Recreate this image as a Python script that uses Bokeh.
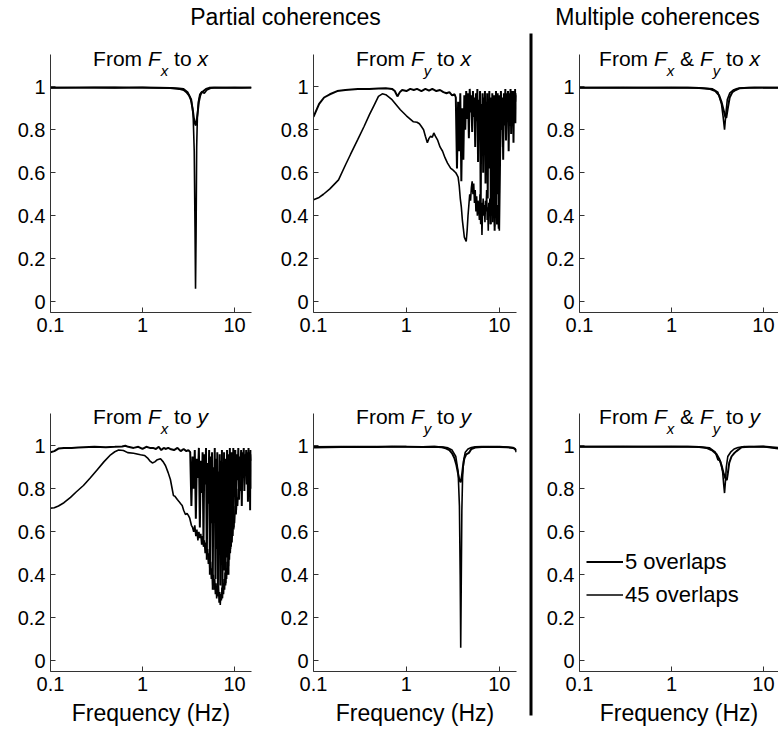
from bokeh.plotting import figure
from bokeh.layouts import row, column
from bokeh.models import (Range1d, FixedTicker, CustomJSTickFormatter, Label,
                          Legend, LegendItem)
from bokeh.embed import file_html
from bokeh.resources import INLINE

FONT = "Liberation Sans"

# ---------------- data ----------------
x_ticks = [0.1, 1, 10]
y_ticks = [0, 0.2, 0.4, 0.6, 0.8, 1]
y_axis_span = (-0.05, 1.15)
series_names = ["5 overlaps", "45 overlaps"]
headers = ["Partial coherences", "Multiple coherences"]
x_title = "Frequency (Hz)"

# shared frequency band (Hz) used by the noisy part of panels "From Fy to x" and "From Fx to y"
f_band = [3.4, 3.5, 3.6, 3.7, 3.8, 3.9, 4.0, 4.1, 4.2, 4.3, 4.4, 4.5, 4.6, 4.7, 4.8, 4.9,
          5.0, 5.1, 5.2, 5.3, 5.4, 5.5, 5.6, 5.7, 5.8, 5.9, 6.0, 6.1, 6.2, 6.3, 6.4, 6.5,
          6.6, 6.7, 6.8, 6.9, 7.0, 7.1, 7.2, 7.3, 7.4, 7.5, 7.6, 7.7, 7.8, 7.9, 8.0, 8.1,
          8.2, 8.3, 8.4, 8.5, 8.6, 8.7, 8.8, 8.9, 9.0, 9.1, 9.2, 9.3, 9.4, 9.5, 9.6, 9.7,
          9.8, 9.9, 10.0, 10.2, 10.4, 10.6, 10.8, 11.0, 11.2, 11.4, 11.6, 11.8, 12.0, 12.2,
          12.4, 12.6, 12.8, 13.0, 13.2, 13.4, 13.6, 13.8, 14.0, 14.2, 14.4, 14.6, 14.8,
          15.0, 15.2]

# Panel: From Fx to x
f_fx_x_5 = [0.1, 0.2, 0.3, 0.5, 0.7, 1.0, 1.5, 2.0, 2.5, 2.8, 3.0, 3.2, 3.35, 3.5, 3.6,
            3.7, 3.8, 3.9, 4.0, 4.1, 4.25, 4.4, 4.6, 4.9, 5.3, 6.0, 8.0, 10.0, 12.0, 15.3]
c_fx_x_5 = [0.995, 0.996, 0.996, 0.995, 0.997, 0.996, 0.995, 0.994, 0.99, 0.985, 0.975,
            0.96, 0.94, 0.9, 0.86, 0.83, 0.82, 0.85, 0.89, 0.93, 0.96, 0.975, 0.98, 0.99,
            0.995, 0.996, 0.995, 0.996, 0.995, 0.996]
f_fx_x_45 = [0.1, 0.2, 0.3, 0.5, 0.7, 1.0, 1.5, 2.0, 2.5, 2.8, 3.1, 3.4, 3.55, 3.65, 3.72,
             3.77, 3.82, 3.88, 3.95, 4.05, 4.2, 4.4, 4.7, 5.0, 5.5, 6.0, 8.0, 10.0, 12.0, 15.3]
c_fx_x_45 = [0.996, 0.995, 0.996, 0.997, 0.995, 0.996, 0.994, 0.995, 0.993, 0.99, 0.975,
             0.94, 0.87, 0.7, 0.35, 0.06, 0.3, 0.72, 0.86, 0.93, 0.965, 0.975, 0.97, 0.985,
             0.993, 0.995, 0.996, 0.995, 0.996, 0.995]

# Panel: From Fy to x
f_fy_x_5_low = [0.1, 0.115, 0.13, 0.15, 0.18, 0.22, 0.3, 0.4, 0.5, 0.6, 0.7, 0.75, 0.8,
                0.85, 0.9, 1.0, 1.1, 1.2, 1.3, 1.45, 1.6, 1.75, 1.9, 2.1, 2.3, 2.5, 2.7,
                2.9, 3.1, 3.3]
c_fy_x_5_low = [0.86, 0.92, 0.95, 0.965, 0.98, 0.985, 0.99, 0.99, 0.992, 0.993, 0.99, 0.98,
                0.955, 0.975, 0.985, 0.98, 0.99, 0.985, 0.99, 0.98, 0.99, 0.982, 0.99, 0.98,
                0.985, 0.975, 0.97, 0.975, 0.96, 0.965]
c_fy_x_5_band = [0.95, 0.62, 0.93, 0.70, 0.97, 0.56, 0.90, 0.66, 0.96, 0.80,
                 0.98, 0.85, 0.97, 0.76, 0.99, 0.88, 0.96, 0.79, 0.98, 0.86,
                 0.95, 0.72, 0.97, 0.84, 0.99, 0.65, 0.94, 0.80, 0.98, 0.42,
                 0.92, 0.75, 0.97, 0.60, 0.95, 0.83, 0.98, 0.55, 0.93, 0.78,
                 0.97, 0.48, 0.90, 0.70, 0.98, 0.62, 0.95, 0.36, 0.92, 0.74,
                 0.97, 0.45, 0.89, 0.58, 0.96, 0.33, 0.94, 0.68, 0.98, 0.40,
                 0.91, 0.77, 0.97, 0.50, 0.93, 0.35, 0.96,
                 0.72, 0.98, 0.80, 0.95, 0.66, 0.97, 0.84, 0.99, 0.75, 0.94,
                 0.87, 0.98, 0.70, 0.96, 0.82, 0.99, 0.78, 0.95, 0.88, 0.98,
                 0.74, 0.97, 0.85, 0.99, 0.83, 0.96]
f_fy_x_45_low = [0.1, 0.115, 0.128, 0.15, 0.186, 0.22, 0.25, 0.3, 0.35, 0.4, 0.45, 0.5,
                 0.55, 0.6, 0.7, 0.86, 1.0, 1.19, 1.3, 1.38, 1.45, 1.53, 1.6, 1.68, 1.75,
                 1.82, 1.9, 1.97, 2.05, 2.16, 2.3, 2.45, 2.6, 2.77, 3.0, 3.15, 3.3]
c_fy_x_45_low = [0.474, 0.485, 0.50, 0.525, 0.567, 0.635, 0.685, 0.755, 0.815, 0.87, 0.915,
                 0.955, 0.967, 0.963, 0.94, 0.893, 0.865, 0.837, 0.835, 0.828, 0.815, 0.80,
                 0.77, 0.74, 0.76, 0.77, 0.765, 0.785, 0.77, 0.753, 0.72, 0.70, 0.67,
                 0.645, 0.62, 0.614, 0.605]
c_fy_x_45_band = [0.60, 0.59, 0.58, 0.54, 0.48, 0.44, 0.38, 0.34, 0.30, 0.29,
                  0.28, 0.33, 0.40, 0.45, 0.50, 0.47, 0.53, 0.56, 0.50, 0.55,
                  0.46, 0.52, 0.42, 0.49, 0.40, 0.47, 0.44, 0.38, 0.50, 0.36,
                  0.46, 0.31, 0.42, 0.48, 0.40, 0.45, 0.37, 0.47, 0.42, 0.52,
                  0.38, 0.44, 0.33, 0.46, 0.41, 0.48, 0.36, 0.45, 0.40, 0.50,
                  0.43, 0.37, 0.46, 0.40, 0.48, 0.35, 0.44, 0.39, 0.47, 0.41,
                  0.36, 0.45, 0.38, 0.43, 0.34, 0.40, 0.33,
                  0.62, 0.88, 0.80, 0.93, 0.85, 0.95, 0.82, 0.93, 0.88, 0.97,
                  0.86, 0.94, 0.90, 0.97, 0.87, 0.95, 0.91, 0.98, 0.89, 0.96,
                  0.92, 0.98, 0.90, 0.96, 0.93, 0.97]

# Panel: From Fx & Fy to x
f_fxy_x_5 = [0.1, 0.3, 0.5, 1.0, 1.5, 2.0, 2.6, 3.0, 3.3, 3.5, 3.7, 3.85, 3.95, 4.1, 4.3,
             4.6, 5.0, 5.5, 7.0, 10.0, 15.3]
c_fxy_x_5 = [0.995, 0.996, 0.995, 0.996, 0.995, 0.994, 0.99, 0.98, 0.96, 0.93, 0.89, 0.86,
             0.855, 0.9, 0.95, 0.975, 0.985, 0.993, 0.995, 0.996, 0.995]
f_fxy_x_45 = [0.1, 0.3, 0.5, 1.0, 1.5, 2.0, 2.8, 3.2, 3.5, 3.65, 3.78, 3.9, 4.05, 4.3, 4.7,
              5.2, 6.0, 8.0, 10.0, 15.3]
c_fxy_x_45 = [0.996, 0.995, 0.996, 0.995, 0.996, 0.995, 0.99, 0.975, 0.92, 0.86, 0.80, 0.87,
              0.94, 0.97, 0.985, 0.992, 0.995, 0.996, 0.995, 0.996]

# Panel: From Fx to y
f_fx_y_5_low = [0.1, 0.11, 0.122, 0.14, 0.17, 0.2, 0.3, 0.4, 0.5, 0.6, 0.65, 0.7, 0.8, 0.9,
                1.0, 1.1, 1.2, 1.3, 1.4, 1.5, 1.6, 1.7, 1.8, 1.9, 2.0, 2.2, 2.4, 2.6, 2.8,
                3.0, 3.15, 3.3]
c_fx_y_5_low = [0.97, 0.975, 0.987, 0.99, 0.99, 0.992, 0.995, 0.993, 0.995, 0.997, 1.0,
                0.995, 0.99, 0.995, 0.985, 0.995, 0.99, 0.99, 0.985, 0.995, 0.98, 0.99,
                0.985, 0.99, 0.985, 0.98, 0.99, 0.975, 0.985, 0.975, 0.98, 0.97]
c_fx_y_5_band = [0.72, 0.95, 0.80, 0.98, 0.66, 0.94, 0.85, 0.99, 0.62, 0.93,
                 0.78, 0.97, 0.55, 0.96, 0.82, 0.99, 0.47, 0.92, 0.73, 0.98,
                 0.40, 0.95, 0.64, 0.97, 0.33, 0.90, 0.70, 0.99, 0.38, 0.94,
                 0.52, 0.97, 0.30, 0.88, 0.60, 0.96, 0.35, 0.93, 0.45, 0.98,
                 0.32, 0.91, 0.58, 0.97, 0.42, 0.94, 0.36, 0.89, 0.63, 0.98,
                 0.48, 0.93, 0.40, 0.96, 0.67, 0.99, 0.52, 0.92, 0.74, 0.97,
                 0.58, 0.95, 0.80, 0.99, 0.62, 0.94, 0.77,
                 0.98, 0.70, 0.96, 0.84, 0.99, 0.75, 0.95, 0.88, 0.98, 0.72,
                 0.97, 0.86, 0.99, 0.79, 0.96, 0.90, 0.98, 0.82, 0.97, 0.74,
                 0.99, 0.87, 0.96, 0.70, 0.98, 0.80]
f_fx_y_45_low = [0.1, 0.11, 0.122, 0.14, 0.165, 0.19, 0.228, 0.27, 0.324, 0.38, 0.45, 0.5,
                 0.55, 0.62, 0.69, 0.8, 0.95, 1.05, 1.13, 1.2, 1.28, 1.36, 1.45, 1.57,
                 1.68, 1.78, 1.9, 2.01, 2.1, 2.17, 2.25, 2.39, 2.5, 2.6, 2.7, 2.8, 2.93,
                 3.05, 3.15, 3.25]
c_fx_y_45_low = [0.71, 0.712, 0.72, 0.735, 0.76, 0.785, 0.815, 0.85, 0.89, 0.925, 0.958,
                 0.972, 0.98, 0.978, 0.968, 0.965, 0.958, 0.955, 0.944, 0.93, 0.92, 0.925,
                 0.935, 0.94, 0.925, 0.907, 0.875, 0.843, 0.80, 0.768, 0.765, 0.75, 0.74,
                 0.73, 0.722, 0.70, 0.68, 0.685, 0.676, 0.665]
c_fx_y_45_band = [0.63, 0.62, 0.60, 0.63, 0.58, 0.61, 0.56, 0.60, 0.57, 0.59,
                  0.54, 0.58, 0.53, 0.56, 0.50, 0.55, 0.49, 0.52, 0.45, 0.50,
                  0.42, 0.46, 0.38, 0.43, 0.35, 0.40, 0.33, 0.38, 0.31, 0.36,
                  0.29, 0.34, 0.30, 0.35, 0.27, 0.32, 0.26, 0.31, 0.28, 0.34,
                  0.29, 0.36, 0.31, 0.38, 0.33, 0.41, 0.35, 0.43, 0.38, 0.46,
                  0.40, 0.49, 0.44, 0.52, 0.47, 0.55, 0.50, 0.57, 0.53, 0.60,
                  0.55, 0.62, 0.58, 0.65, 0.61, 0.68, 0.64,
                  0.72, 0.68, 0.76, 0.72, 0.80, 0.75, 0.83, 0.79, 0.86, 0.82,
                  0.89, 0.85, 0.92, 0.87, 0.94, 0.89, 0.95, 0.90, 0.96, 0.88,
                  0.95, 0.91, 0.97, 0.84, 0.96, 0.93]

# Panel: From Fy to y
f_fy_y_5 = [0.1, 0.2, 0.3, 0.5, 0.7, 1.0, 1.5, 2.0, 2.4, 2.65, 2.9, 3.1, 3.3, 3.45, 3.6,
            3.72, 3.84, 3.95, 4.05, 4.2, 4.4, 4.7, 5.0, 5.5, 6.5, 8.0, 10.0, 12.0, 14.0,
            14.8, 15.3]
c_fy_y_5 = [0.992, 0.994, 0.995, 0.994, 0.996, 0.995, 0.994, 0.995, 0.993, 0.988, 0.98,
            0.965, 0.94, 0.91, 0.87, 0.84, 0.83, 0.86, 0.9, 0.94, 0.96, 0.967, 0.985,
            0.992, 0.994, 0.995, 0.994, 0.993, 0.99, 0.985, 0.97]
f_fy_y_45 = [0.1, 0.2, 0.3, 0.5, 0.7, 1.0, 1.5, 2.0, 2.5, 2.8, 3.1, 3.4, 3.6, 3.72, 3.79,
             3.84, 3.89, 3.95, 4.02, 4.12, 4.3, 4.6, 5.0, 5.5, 6.5, 8.0, 10.0, 12.0, 14.0,
             15.3]
c_fy_y_45 = [0.995, 0.996, 0.995, 0.996, 0.995, 0.996, 0.995, 0.996, 0.994, 0.99, 0.98,
             0.95, 0.88, 0.72, 0.4, 0.06, 0.35, 0.7, 0.85, 0.93, 0.97, 0.985, 0.992, 0.995,
             0.996, 0.995, 0.996, 0.994, 0.992, 0.98]

# Panel: From Fx & Fy to y
f_fxy_y_5 = [0.1, 0.3, 0.5, 1.0, 1.5, 2.0, 2.4, 2.8, 3.1, 3.3, 3.5, 3.7, 3.85, 4.0, 4.1,
             4.25, 4.5, 4.8, 5.1, 5.8, 7.0, 10.0, 15.3]
c_fxy_y_5 = [0.995, 0.996, 0.995, 0.996, 0.995, 0.994, 0.99, 0.977, 0.96, 0.94, 0.91, 0.87,
             0.85, 0.84, 0.87, 0.92, 0.95, 0.965, 0.975, 0.993, 0.995, 0.996, 0.99]
f_fxy_y_45 = [0.1, 0.3, 0.5, 1.0, 1.5, 2.0, 2.6, 3.0, 3.2, 3.4, 3.6, 3.7, 3.78, 3.86, 3.95,
              4.1, 4.4, 4.8, 5.3, 6.2, 8.0, 10.0, 15.3]
c_fxy_y_45 = [0.996, 0.995, 0.996, 0.995, 0.996, 0.995, 0.99, 0.97, 0.935, 0.93, 0.88, 0.82,
              0.78, 0.83, 0.9, 0.95, 0.97, 0.985, 0.992, 0.996, 0.995, 0.996, 0.985]

# ---------------- helpers ----------------
CW = {'F': 0.611, 'r': 0.333, 'o': 0.556, 'm': 0.833, ' ': 0.278, 't': 0.278,
      'x': 0.5, 'y': 0.5, '&': 0.667}


def tw(s, size):
    return sum(CW[ch] for ch in s) * size


MAIN, SUB = 21, 15
AXIS_H = 258          # pixel height of the drawn y-axis (from -0.05 to 1.15)
TOPPAD = 8            # extra frame space above the axis top so the titles are not clipped
FRAME_H = AXIS_H + TOPPAD
Y_TOP = y_axis_span[1] + TOPPAD * (y_axis_span[1] - y_axis_span[0]) / AXIS_H


def add_title(p, parts, center, below_axis_top):
    # parts: (text, italic, subscript, trailing space)
    widths = []
    for t, it, sub, sp in parts:
        widths.append(tw(t, SUB if sub else MAIN) + (tw(" ", MAIN) if sp else 0))
    x = center - sum(widths) / 2
    for (t, it, sub, sp), w in zip(parts, widths):
        size = SUB if sub else MAIN
        base = TOPPAD + below_axis_top + (10 if sub else 0)
        mid = base - 0.35 * size
        p.add_layout(Label(x=x, y=FRAME_H - mid,
                           x_units="screen", y_units="screen", text=t,
                           text_font=FONT, text_font_size=f"{size}px",
                           text_font_style="italic" if it else "normal",
                           text_baseline="middle", text_align="left",
                           text_color="black"))
        x += w


def panel(width, height, bl, br, bt, bb, xend, xlabel):
    p = figure(width=width, height=height, x_axis_type="log",
               x_range=Range1d(0.1, xend), y_range=Range1d(y_axis_span[0], Y_TOP),
               output_backend="svg", toolbar_location=None,
               min_border_left=bl, min_border_right=br,
               min_border_top=bt, min_border_bottom=bb)
    p.xgrid.visible = False
    p.ygrid.visible = False
    p.outline_line_color = None
    p.background_fill_color = "white"
    p.border_fill_color = "white"
    p.xaxis.ticker = FixedTicker(ticks=x_ticks)
    p.yaxis.ticker = FixedTicker(ticks=y_ticks)
    p.yaxis.bounds = y_axis_span
    p.xaxis.formatter = CustomJSTickFormatter(
        code="return tick < 1 ? tick.toFixed(1) : tick.toFixed(0);")
    p.yaxis.formatter = CustomJSTickFormatter(
        code="return (Math.abs(tick) < 1e-9 || Math.abs(tick - 1) < 1e-9) ? tick.toFixed(0) : tick.toFixed(1);")
    for ax in p.axis:
        ax.axis_line_color = "#333333"
        ax.axis_line_width = 1
        ax.major_tick_in = 5
        ax.major_tick_out = 0
        ax.minor_tick_in = 0
        ax.minor_tick_out = 0
        ax.major_tick_line_color = "#333333"
        ax.major_label_text_font = FONT
        ax.major_label_text_font_size = "20px"
        ax.major_label_text_color = "black"
        ax.major_label_standoff = 5
    if xlabel:
        p.xaxis.axis_label = x_title
        p.xaxis.axis_label_text_font = FONT
        p.xaxis.axis_label_text_font_size = "23px"
        p.xaxis.axis_label_text_font_style = "normal"
        p.xaxis.axis_label_text_color = "black"
        p.xaxis.axis_label_standoff = 6
    return p


def draw(p, f5, c5, f45, c45):
    r5 = p.line(f5, c5, line_color="black", line_width=2.0)
    r45 = p.line(f45, c45, line_color="black", line_width=1.6)
    return r5, r45


T_FX_X = [("From", False, False, True), ("F", True, False, False), ("x", True, True, True),
          ("to", False, False, True), ("x", True, False, False)]
T_FY_X = [("From", False, False, True), ("F", True, False, False), ("y", True, True, True),
          ("to", False, False, True), ("x", True, False, False)]
T_FXY_X = [("From", False, False, True), ("F", True, False, False), ("x", True, True, True),
           ("&", False, False, True), ("F", True, False, False), ("y", True, True, True),
           ("to", False, False, True), ("x", True, False, False)]
T_FX_Y = [("From", False, False, True), ("F", True, False, False), ("x", True, True, True),
          ("to", False, False, True), ("y", True, False, False)]
T_FY_Y = [("From", False, False, True), ("F", True, False, False), ("y", True, True, True),
          ("to", False, False, True), ("y", True, False, False)]
T_FXY_Y = [("From", False, False, True), ("F", True, False, False), ("x", True, True, True),
           ("&", False, False, True), ("F", True, False, False), ("y", True, True, True),
           ("to", False, False, True), ("y", True, False, False)]

# ---------------- panels ----------------
R1 = dict(height=340, bt=24 - TOPPAD, bb=58)
R2 = dict(height=365, bt=43 - TOPPAD, bb=64)

p1 = panel(258, R1["height"], 50, 7, R1["bt"], R1["bb"], 15.3, False)
draw(p1, f_fx_x_5, c_fx_x_5, f_fx_x_45, c_fx_x_45)
add_title(p1, T_FX_X, 100, 11)

p2 = panel(270, R1["height"], 55, 12, R1["bt"], R1["bb"], 15.3, False)
draw(p2, f_fy_x_5_low + f_band, c_fy_x_5_low + c_fy_x_5_band,
     f_fy_x_45_low + f_band, c_fy_x_45_low + c_fy_x_45_band)
add_title(p2, T_FY_X, 100, 11)

p3 = panel(244, R1["height"], 45, 0, R1["bt"], R1["bb"], 14.6, False)
draw(p3, f_fxy_x_5, c_fxy_x_5, f_fxy_x_45, c_fxy_x_45)
add_title(p3, T_FXY_X, 100, 11)

p4 = panel(258, R2["height"], 50, 7, R2["bt"], R2["bb"], 15.3, True)
draw(p4, f_fx_y_5_low + f_band, c_fx_y_5_low + c_fx_y_5_band,
     f_fx_y_45_low + f_band, c_fx_y_45_low + c_fx_y_45_band)
add_title(p4, T_FX_Y, 100, 10.5)

p5 = panel(270, R2["height"], 55, 12, R2["bt"], R2["bb"], 15.3, True)
draw(p5, f_fy_y_5, c_fy_y_5, f_fy_y_45, c_fy_y_45)
add_title(p5, T_FY_Y, 100, 10.5)

p6 = panel(244, R2["height"], 45, 0, R2["bt"], R2["bb"], 14.6, True)
r5, r45 = draw(p6, f_fxy_y_5, c_fxy_y_5, f_fxy_y_45, c_fxy_y_45)
add_title(p6, T_FXY_Y, 100, 10.5)
legend = Legend(items=[LegendItem(label=series_names[0], renderers=[r5]),
                       LegendItem(label=series_names[1], renderers=[r45])],
                location=(7, 60), orientation="vertical",
                background_fill_alpha=0, border_line_color=None,
                padding=0, margin=0, spacing=0, glyph_width=37, glyph_height=33,
                label_height=33, label_standoff=2,
                label_text_font=FONT, label_text_font_size="22px",
                label_text_baseline="middle", label_text_color="black")
p6.add_layout(legend)

# header strip with the two group titles
hdr = figure(width=778, height=30, x_range=Range1d(0, 1), y_range=Range1d(0, 1),
             output_backend="svg", toolbar_location=None, min_border=0,
             min_border_left=0, min_border_right=0, min_border_top=0, min_border_bottom=0,
             x_axis_location=None, y_axis_location=None)
hdr.grid.visible = False
hdr.outline_line_color = None
for text, cx in zip(headers, [285, 657]):
    hdr.add_layout(Label(x=cx, y=30 - (25 - 0.35 * 23), x_units="screen", y_units="screen",
                         text=text, text_font=FONT, text_font_size="23px",
                         text_align="center", text_baseline="middle", text_color="black"))

# vertical separator between the two groups
sep = figure(width=6, height=705, x_range=Range1d(0, 1), y_range=Range1d(0, 1),
             output_backend="svg", toolbar_location=None,
             min_border_left=1, min_border_right=2, min_border_top=3,
             min_border_bottom=20, x_axis_location=None, y_axis_location=None)
sep.grid.visible = False
sep.outline_line_color = None
sep.background_fill_color = "black"
sep.border_fill_color = "white"

left = column(row(p1, p2), row(p4, p5))
right = column(p3, p6)
layout = column(hdr, row(left, sep, right))

open("out.html", "w").write(file_html(layout, INLINE))
